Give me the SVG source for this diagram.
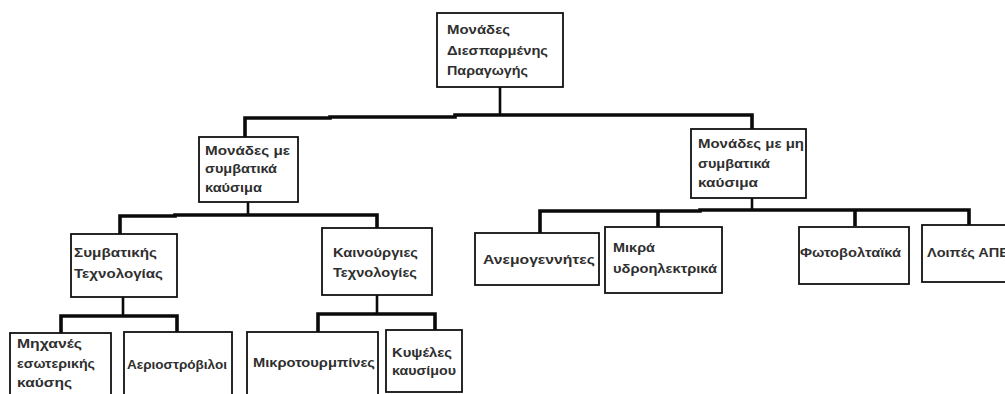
<svg xmlns="http://www.w3.org/2000/svg" width="1005" height="394" viewBox="0 0 1005 394">
  <style>
    .box { fill: #ffffff; stroke: #111111; stroke-width: 1.8; }
    .link { fill: none; stroke: #0a0a0a; stroke-width: 3.6; stroke-linejoin: miter; stroke-linecap: butt; }
    .stem { fill: none; stroke: #0a0a0a; stroke-width: 2.6; }
    text { font-family: "Liberation Sans", Arial, sans-serif; font-size: 13.5px; font-weight: bold; fill: #2f2f2f; dominant-baseline: central; }
  </style>
  <rect width="1005" height="394" fill="#ffffff"/>

  <!-- connectors -->
  <g id="connectors">
    <line class="stem" x1="500" y1="87" x2="500" y2="115"/>
    <path class="link" d="M245,137 V118 H330 V117 H455 V115 H752 V129"/>
    <line class="stem" x1="248" y1="202" x2="248" y2="216"/>
    <path class="link" d="M120,234 V216 H175 V215 H377 V228"/>
    <line class="stem" x1="752" y1="198" x2="752" y2="211"/>
    <path class="link" d="M540,233 V211 H700 V210 H969 V225"/>
    <line class="link" x1="658" y1="211" x2="658" y2="228"/>
    <line class="link" x1="855" y1="210" x2="855" y2="226"/>
    <line class="stem" x1="123" y1="297" x2="123" y2="316"/>
    <path class="link" d="M61,333 V316 H177 V332"/>
    <line class="stem" x1="377" y1="295" x2="377" y2="314"/>
    <path class="link" d="M318,332 V314 H435 V330"/>
  </g>

  <g id="n-root">
    <rect class="box" x="437" y="13" width="126" height="74"/>
    <text x="447" y="29" textLength="63" lengthAdjust="spacingAndGlyphs">Μονάδες</text>
    <text x="447" y="50" textLength="101" lengthAdjust="spacingAndGlyphs">Διεσπαρμένης</text>
    <text x="447" y="70" textLength="81" lengthAdjust="spacingAndGlyphs">Παραγωγής</text>
  </g>

  <g id="n-conv">
    <rect class="box" x="199" y="137" width="99" height="65"/>
    <text x="205" y="150" textLength="85" lengthAdjust="spacingAndGlyphs">Μονάδες με</text>
    <text x="205" y="168" textLength="72" lengthAdjust="spacingAndGlyphs">συμβατικά</text>
    <text x="205" y="187" textLength="57" lengthAdjust="spacingAndGlyphs">καύσιμα</text>
  </g>

  <g id="n-nonconv">
    <rect class="box" x="691" y="129" width="115" height="69"/>
    <text x="698" y="143" textLength="106" lengthAdjust="spacingAndGlyphs">Μονάδες με μη</text>
    <text x="698" y="163" textLength="72" lengthAdjust="spacingAndGlyphs">συμβατικά</text>
    <text x="698" y="182" textLength="60" lengthAdjust="spacingAndGlyphs">καύσιμα</text>
  </g>

  <g id="n-convtech">
    <rect class="box" x="71" y="234" width="106" height="63"/>
    <text x="74" y="252" textLength="83" lengthAdjust="spacingAndGlyphs">Συμβατικής</text>
    <text x="74" y="273" textLength="89" lengthAdjust="spacingAndGlyphs">Τεχνολογίας</text>
  </g>

  <g id="n-newtech">
    <rect class="box" x="322" y="228" width="110" height="67"/>
    <text x="333" y="252" textLength="85" lengthAdjust="spacingAndGlyphs">Καινούργιες</text>
    <text x="333" y="272" textLength="84" lengthAdjust="spacingAndGlyphs">Τεχνολογίες</text>
  </g>

  <g id="n-ice">
    <rect class="box" x="10" y="333" width="101" height="70"/>
    <text x="17" y="343" textLength="65" lengthAdjust="spacingAndGlyphs">Μηχανές</text>
    <text x="17" y="363" textLength="78" lengthAdjust="spacingAndGlyphs">εσωτερικής</text>
    <text x="17" y="382" textLength="55" lengthAdjust="spacingAndGlyphs">καύσης</text>
  </g>

  <g id="n-gasturbine">
    <rect class="box" x="124" y="332" width="108" height="70"/>
    <text x="127" y="364" textLength="100" lengthAdjust="spacingAndGlyphs">Αεριοστρόβιλοι</text>
  </g>

  <g id="n-microturbine">
    <rect class="box" x="247" y="332" width="131" height="70"/>
    <text x="253" y="362" textLength="122" lengthAdjust="spacingAndGlyphs">Μικροτουρμπίνες</text>
  </g>

  <g id="n-fuelcell">
    <rect class="box" x="386" y="330" width="76" height="62"/>
    <text x="392" y="352" textLength="60" lengthAdjust="spacingAndGlyphs">Κυψέλες</text>
    <text x="392" y="370" textLength="64" lengthAdjust="spacingAndGlyphs">καυσίμου</text>
  </g>

  <g id="n-wind">
    <rect class="box" x="475" y="233" width="124" height="52"/>
    <text x="483" y="259" textLength="112" lengthAdjust="spacingAndGlyphs">Ανεμογεννήτες</text>
  </g>

  <g id="n-hydro">
    <rect class="box" x="605" y="227" width="117" height="66"/>
    <text x="613" y="247" textLength="42" lengthAdjust="spacingAndGlyphs">Μικρά</text>
    <text x="613" y="268" textLength="104" lengthAdjust="spacingAndGlyphs">υδροηλεκτρικά</text>
  </g>

  <g id="n-pv">
    <rect class="box" x="799" y="227" width="110" height="57"/>
    <text x="800" y="252" textLength="101" lengthAdjust="spacingAndGlyphs">Φωτοβολταϊκά</text>
  </g>

  <g id="n-other">
    <rect class="box" x="922" y="225" width="100" height="57"/>
    <text x="927" y="252" textLength="82" lengthAdjust="spacingAndGlyphs">Λοιπές ΑΠΕ</text>
  </g>
</svg>
